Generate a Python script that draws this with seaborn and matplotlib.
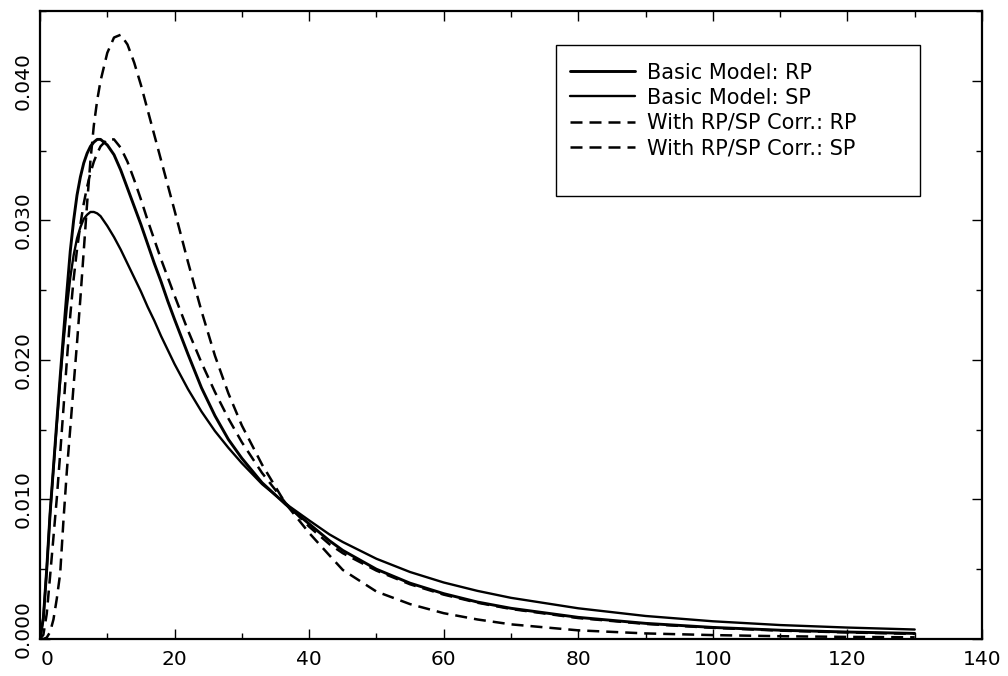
import matplotlib
matplotlib.use("Agg")
import matplotlib.pyplot as plt
from matplotlib.patches import Rectangle
from matplotlib.ticker import MultipleLocator, FormatStrFormatter
from matplotlib.transforms import ScaledTranslation
import seaborn as sns
import pandas as pd

# ---- data (density x 1e-3) ----
x_vals = [0, 0.5, 1, 1.5, 2, 2.5, 3, 3.5, 4, 4.5, 5, 5.5, 6, 6.5, 7, 7.5, 8, 8.5, 9,
          10, 11, 12, 13, 14, 15, 16, 17, 18, 19, 20, 22, 24, 26, 28, 30, 33, 36.5,
          40, 43, 45, 50, 55, 60, 65, 70, 80, 90, 100, 110, 120, 130]

basic_rp = [0, 1.5, 5.0, 9.0, 12.3, 15.6, 18.8, 21.9, 24.9, 27.8, 30.0, 31.8, 33.1, 34.1,
            34.8, 35.3, 35.6, 35.8, 35.8, 35.4, 34.7, 33.6, 32.3, 31.0, 29.7, 28.3, 26.9,
            25.6, 24.2, 22.9, 20.4, 18.0, 16.0, 14.3, 12.95, 11.2, 9.65, 8.25, 7.05, 6.35,
            5.0, 4.0, 3.25, 2.65, 2.2, 1.55, 1.12, 0.83, 0.63, 0.5, 0.4]

basic_sp = [0, 1.5, 5.0, 9.0, 12.2, 15.4, 18.5, 21.3, 23.8, 25.9, 27.5, 28.7, 29.5, 30.1,
            30.4, 30.6, 30.6, 30.5, 30.3, 29.6, 28.8, 27.9, 26.9, 25.9, 24.9, 23.8, 22.8,
            21.7, 20.7, 19.7, 17.9, 16.3, 14.9, 13.7, 12.6, 11.1, 9.7, 8.5, 7.5, 6.95,
            5.75, 4.8, 4.05, 3.45, 2.95, 2.2, 1.65, 1.27, 1.0, 0.82, 0.68]

corr_rp = [0, 0.3, 1.8, 4.5, 7.3, 10.1, 13.3, 16.6, 20.0, 23.2, 25.8, 27.9, 29.7, 31.2,
           32.4, 33.4, 34.2, 34.8, 35.3, 35.8, 35.8, 35.2, 34.2, 32.9, 31.5, 30.0, 28.6,
           27.2, 25.9, 24.6, 22.1, 19.8, 17.7, 15.8, 14.1, 11.9, 9.75, 8.05, 6.8, 6.15,
           4.9, 3.92, 3.18, 2.6, 2.15, 1.5, 1.08, 0.8, 0.6, 0.47, 0.37]

corr_sp = [0, 0, 0.1, 0.5, 1.4, 2.9, 4.7, 8.6, 12.1, 15.1, 18.2, 21.2, 24.4, 27.8,
           31.2, 34.3, 36.8, 38.6, 40.0, 42.0, 43.1, 43.3, 42.6, 41.3, 39.7, 37.9, 36.1,
           34.3, 32.5, 30.7, 27.0, 23.5, 20.3, 17.6, 15.3, 12.5, 9.7, 7.6, 6.0, 4.95,
           3.4, 2.5, 1.85, 1.4, 1.05, 0.62, 0.4, 0.28, 0.2, 0.15, 0.12]

series_labels = ["Basic Model: RP", "Basic Model: SP",
                 "With RP/SP Corr.: RP", "With RP/SP Corr.: SP"]
x_ticks = [0, 20, 40, 60, 80, 100, 120, 140]
y_ticks = [0.000, 0.010, 0.020, 0.030, 0.040]

# ---- build long-form table ----
frames = []
for lab, vals in zip(series_labels, [basic_rp, basic_sp, corr_rp, corr_sp]):
    frames.append(pd.DataFrame({"x": x_vals,
                                "y": [v / 1000.0 for v in vals],
                                "series": lab}))
df = pd.concat(frames, ignore_index=True)

sns.set_theme(style="ticks")
plt.rcParams["font.family"] = ["DejaVu Sans"]
plt.rcParams["text.color"] = "black"
plt.rcParams["xtick.color"] = "black"
plt.rcParams["ytick.color"] = "black"
plt.rcParams["xtick.labelcolor"] = "black"
plt.rcParams["ytick.labelcolor"] = "black"

fig = plt.figure(figsize=(10.08, 6.76), dpi=100)
ax = fig.add_axes([0.03968, 0.05473, 0.93452, 0.92899])

styles = {
    "Basic Model: RP": dict(lw=2.1, linestyle="-"),
    "Basic Model: SP": dict(lw=1.7, linestyle="-"),
    "With RP/SP Corr.: RP": dict(lw=1.8, linestyle=(0, (4.8, 2.8))),
    "With RP/SP Corr.: SP": dict(lw=1.8, linestyle=(0, (4.8, 2.8))),
}

for lab in series_labels:
    sub = df[df["series"] == lab]
    sns.lineplot(data=sub, x="x", y="y", ax=ax, color="black",
                 estimator=None, sort=False, label=lab, **styles[lab])

ax.set_xlim(0, 140)
ax.set_ylim(0, 0.045)
ax.set_xlabel("")
ax.set_ylabel("")
ax.set_xticks(x_ticks)
ax.set_yticks(y_ticks)
ax.xaxis.set_minor_locator(MultipleLocator(10))
ax.yaxis.set_minor_locator(MultipleLocator(0.005))
ax.yaxis.set_major_formatter(FormatStrFormatter("%.3f"))

for sp in ax.spines.values():
    sp.set_visible(True)
    sp.set_linewidth(1.6)
    sp.set_color("black")

ax.tick_params(which="both", direction="in", top=True, right=True,
               color="black", width=1.0)
ax.tick_params(which="major", length=7)
ax.tick_params(which="minor", length=4.5)
ax.tick_params(axis="x", labelsize=14.5, pad=8, labelcolor="black")
ax.tick_params(axis="y", labelsize=14.5, pad=5, labelcolor="black")
plt.setp(ax.get_yticklabels(), rotation=90, va="center")

# nudge the two labels at the origin apart, as in the reference
xt0 = ax.xaxis.get_major_ticks()[0].label1
xt0.set_transform(xt0.get_transform() + ScaledTranslation(7 / 100, 0, fig.dpi_scale_trans))
yt0 = ax.yaxis.get_major_ticks()[0].label1
yt0.set_transform(yt0.get_transform() + ScaledTranslation(0, 10 / 100, fig.dpi_scale_trans))

# legend
handles, labels = ax.get_legend_handles_labels()
leg = ax.legend(handles, labels, loc="upper left", bbox_to_anchor=(0.5626, 0.918),
                borderaxespad=0, borderpad=0, frameon=False, fontsize=15,
                handlelength=3.1, handletextpad=0.6, labelspacing=0.25)
for t in leg.get_texts():
    t.set_color("black")
ax.add_patch(Rectangle((0.5478, 0.7054), 0.3864, 0.2405, transform=ax.transAxes,
                       fill=False, lw=1.0, ec="black", zorder=5))

fig.savefig("out.png", dpi=100)
